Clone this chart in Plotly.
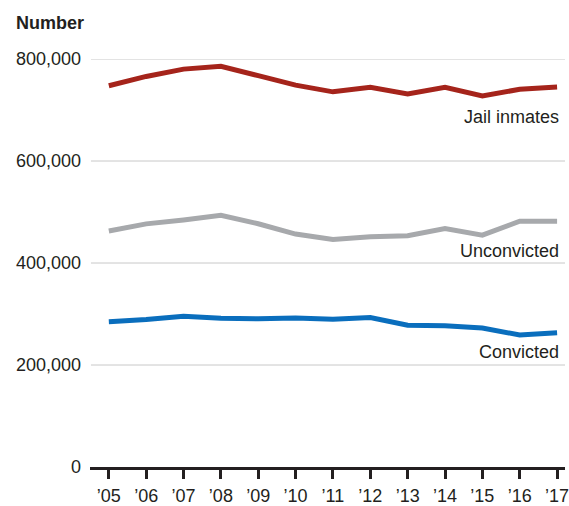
import plotly.graph_objects as go

years = list(range(2005, 2018))
tick_labels = ["\u201905", "\u201906", "\u201907", "\u201908", "\u201909", "\u201910", "\u201911",
               "\u201912", "\u201913", "\u201914", "\u201915", "\u201916", "\u201917"]
jail_inmates = [747529, 765819, 780174, 785533, 767434, 748728, 735601, 744524, 731208, 744592, 727400, 740700, 745200]
unconvicted = [462600, 476700, 484400, 493700, 476900, 456700, 445900, 451400, 453300, 467500, 454700, 482000, 482000]
convicted = [284900, 289100, 295800, 291800, 290500, 292000, 289700, 293100, 277900, 277100, 272700, 258700, 263200]
y_ticks = [0, 200000, 400000, 600000, 800000]
y_tick_labels = ["0", "200,000", "400,000", "600,000", "800,000"]

FONT = "Liberation Sans, Arial, sans-serif"
TXT = "#231F20"

fig = go.Figure()
series = [
    ("Jail inmates", jail_inmates, "#A5241B", 686000),
    ("Unconvicted", unconvicted, "#A7A9AC", 424000),
    ("Convicted", convicted, "#0A6EBD", 226000),
]
for name, vals, color, ly in series:
    fig.add_trace(go.Scatter(x=years, y=vals, mode="lines", name=name,
                             line=dict(color=color, width=5), showlegend=False,
                             hoverinfo="skip"))
    fig.add_annotation(x=2017, y=ly, xref="x", yref="y", text=name, showarrow=False,
                       xanchor="right", yanchor="middle", xshift=4,
                       font=dict(family=FONT, size=18, color=TXT))

for t in y_ticks[1:]:
    fig.add_shape(type="line", xref="paper", yref="y", x0=0.002, x1=1, y0=t, y1=t,
                  line=dict(color="#C8C8C8", width=1), layer="below")

fig.add_annotation(x=0, y=1, xref="paper", yref="paper", xanchor="left", yanchor="middle",
                   text="<b>Number</b>", showarrow=False, xshift=-76, yshift=36,
                   font=dict(family=FONT, size=18, color=TXT))

fig.update_layout(
    width=569, height=506,
    margin=dict(l=90, r=0, t=59, b=37),
    paper_bgcolor="white", plot_bgcolor="white",
    font=dict(family=FONT, size=18, color=TXT),
    xaxis=dict(range=[2004.496, 2017.212], tickmode="array", tickvals=years, ticktext=tick_labels,
               showgrid=False, zeroline=False, showline=True, linecolor=TXT, linewidth=3,
               ticks="outside", ticklen=9, tickwidth=2.5, tickcolor=TXT,
               ticklabeloverflow="allow", ticklabelstandoff=1,
               tickfont=dict(family=FONT, size=18)),
    yaxis=dict(range=[0, 800000], tickmode="array", tickvals=y_ticks, ticktext=y_tick_labels,
               showgrid=False, zeroline=False, showline=False, ticks="",
               ticklabelstandoff=8,
               tickfont=dict(family=FONT, size=18)),
)

fig.write_html("out.html", config={"displayModeBar": False},
               post_script="document.body.style.margin='0';")
